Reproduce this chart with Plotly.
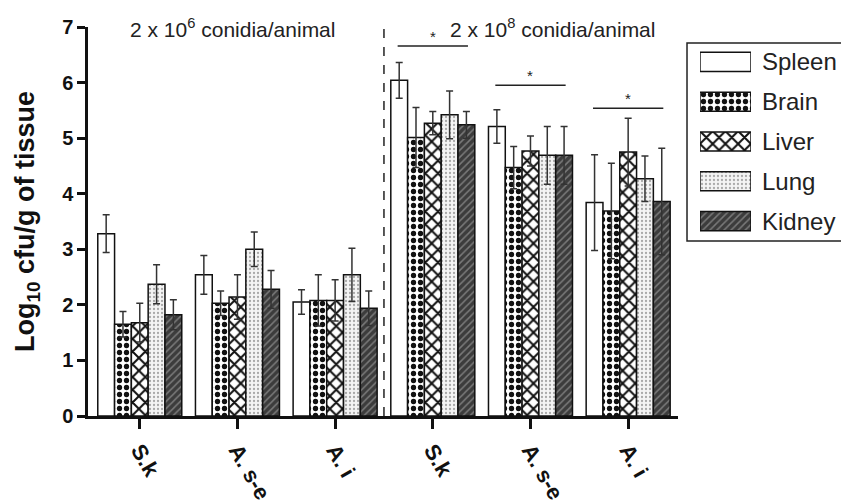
import plotly.graph_objects as go

# ---------------- data ----------------
groups = ["S.k", "A. s-e", "A. i", "S.k", "A. s-e", "A. i"]
organs = ["Spleen", "Brain", "Liver", "Lung", "Kidney"]

spleen = [3.28, 2.54, 2.05, 6.04, 5.21, 3.84]
brain = [1.65, 2.03, 2.08, 5.01, 4.47, 3.69]
liver = [1.68, 2.14, 2.08, 5.27, 4.77, 4.75]
lung = [2.37, 3.00, 2.54, 5.42, 4.69, 4.27]
kidney = [1.82, 2.28, 1.94, 5.24, 4.69, 3.86]

spleen_err = [0.34, 0.35, 0.22, 0.32, 0.30, 0.86]
brain_err = [0.23, 0.22, 0.46, 0.54, 0.38, 0.86]
liver_err = [0.35, 0.40, 0.37, 0.21, 0.27, 0.61]
lung_err = [0.35, 0.31, 0.48, 0.43, 0.52, 0.41]
kidney_err = [0.27, 0.34, 0.31, 0.24, 0.52, 0.96]

dose_labels = ["2 x 10<sup>6</sup> conidia/animal", "2 x 10<sup>8</sup> conidia/animal"]
sig_groups = [3, 4, 5]
sig_level = [6.66, 5.95, 5.54]

values = [spleen, brain, liver, lung, kidney]
errors = [spleen_err, brain_err, liver_err, lung_err, kidney_err]

# ---------------- styles ----------------
FONT = "Liberation Sans, Arial, sans-serif"
styles = {
    "Spleen": dict(color="white", pattern=dict(shape="")),
    "Brain": dict(color="white", pattern=dict(shape=".", fgcolor="#111111", bgcolor="white",
                                               size=7, solidity=0.45, fillmode="replace")),
    "Liver": dict(color="white", pattern=dict(shape="x", fgcolor="#111111", bgcolor="white",
                                               size=9, solidity=0.4, fillmode="replace")),
    "Lung": dict(color="#eeeeee", pattern=dict(shape=".", fgcolor="#a8a8a8", bgcolor="#f4f4f4",
                                                size=4, solidity=0.25, fillmode="replace")),
    "Kidney": dict(color="#444444", pattern=dict(shape="/", fgcolor="#7a7a7a", bgcolor="#3c3c3c",
                                                  size=5, solidity=0.3, fillmode="replace")),
}

xpos = list(range(len(groups)))

fig = go.Figure()
for name, vals, errs in zip(organs, values, errors):
    st = styles[name]
    fig.add_trace(go.Bar(
        x=xpos, y=vals, name=name, showlegend=False,
        marker=dict(color=st["color"], pattern=st["pattern"],
                    line=dict(color="#111111", width=1.5)),
        error_y=dict(type="data", array=errs, visible=True, color="#333333",
                     thickness=1.5, width=3.5),
        xaxis="x", yaxis="y",
    ))

# legend-like key drawn on an auxiliary axis
for name in organs:
    st = styles[name]
    fig.add_trace(go.Bar(
        x=[1], y=[name], orientation="h", showlegend=False, hoverinfo="skip",
        marker=dict(color=st["color"], pattern=st["pattern"],
                    line=dict(color="#111111", width=1.5)),
        xaxis="x2", yaxis="y2", width=0.48,
    ))

shapes = []
# dashed separator between the two doses
sep = len(groups) / 2 - 0.5
shapes.append(dict(type="line", xref="x", yref="y", x0=sep, x1=sep, y0=0, y1=7,
                   line=dict(color="#222222", width=1.5, dash="dash")))
annotations = []
for g, lvl in zip(sig_groups, sig_level):
    shapes.append(dict(type="line", xref="x", yref="y", x0=g - 0.36, x1=g + 0.36,
                       y0=lvl, y1=lvl, line=dict(color="#222222", width=1.5)))
    annotations.append(dict(x=g, y=lvl, xref="x", yref="y", text="*", showarrow=False,
                            yanchor="bottom", yshift=-1,
                            font=dict(family=FONT, size=15, color="#222222")))

annotations.append(dict(x=0.95, y=6.98, xref="x", yref="y", text=dose_labels[0],
                        showarrow=False, yanchor="middle",
                        font=dict(family=FONT, size=21, color="#222222")))
annotations.append(dict(x=4.23, y=6.98, xref="x", yref="y", text=dose_labels[1],
                        showarrow=False, yanchor="middle",
                        font=dict(family=FONT, size=21, color="#222222")))

# legend border
shapes.append(dict(type="rect", xref="paper", yref="paper", x0=0.7955, x1=1.05,
                   y0=0.4499, y1=0.9589, line=dict(color="#222222", width=1.5)))

fig.update_layout(
    width=841, height=503,
    margin=dict(l=88, r=0, t=27, b=87),
    paper_bgcolor="white", plot_bgcolor="white",
    barmode="group", bargap=0.14, bargroupgap=0,
    shapes=shapes, annotations=annotations,
    font=dict(family=FONT, color="#111111"),
    xaxis=dict(domain=[0, 0.7835], range=[-0.53, 5.51], tickvals=xpos, ticktext=groups,
               tickangle=60, ticks="outside", ticklen=10, tickwidth=2.5, tickcolor="#111111",
               showline=True, linewidth=2.5, linecolor="#111111", showgrid=False, zeroline=False,
               tickfont=dict(family=FONT, size=22, weight="bold", color="#111111")),
    yaxis=dict(range=[0, 7], tickvals=list(range(8)), ticks="outside", ticklen=8, tickwidth=2.5,
               tickcolor="#111111", showline=True, linewidth=2.5, linecolor="#111111",
               showgrid=False, zeroline=False,
               tickfont=dict(family=FONT, size=20, weight="bold", color="#111111"),
               title=dict(text="Log<sub>10</sub> cfu/g of tissue", standoff=20,
                          font=dict(family=FONT, size=27, weight="bold", color="#111111"))),
    xaxis2=dict(domain=[0.8127, 0.8805], range=[0, 1], anchor="y2", visible=False),
    yaxis2=dict(domain=[0.4499, 0.9614], anchor="x2", side="right", type="category",
                categoryorder="array", categoryarray=organs, range=[4.5, -0.5],
                showline=False, showgrid=False, zeroline=False, ticks="",
                ticklabelstandoff=10,
                tickfont=dict(family=FONT, size=24, color="#222222")),
)

fig.write_html("out.html")
